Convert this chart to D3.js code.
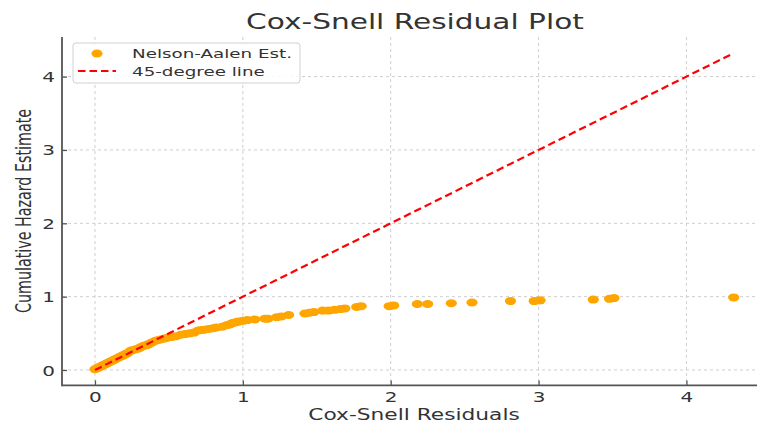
<!DOCTYPE html>
<html><head><meta charset="utf-8">
<script src="https://cdn.jsdelivr.net/npm/d3@7"></script>
<style>html,body{margin:0;padding:0;background:#fff;}svg{display:block;font-family:"DejaVu Sans",sans-serif;}</style>
</head><body>
<svg id="chart" width="757" height="422"></svg>
<script>
const title = "Cox-Snell Residual Plot";
const xLabel = "Cox-Snell Residuals";
const yLabel = "Cumulative Hazard Estimate";
const seriesPoints = "Nelson-Aalen Est.";
const seriesLine = "45-degree line";
const xTicks = [0, 1, 2, 3, 4];
const yTicks = [0, 1, 2, 3, 4];
const residuals = [0.00,0.01,0.02,0.03,0.04,0.05,0.06,0.07,0.08,0.09,0.10,0.11,0.12,0.13,0.14,0.15,0.16,0.17,0.18,0.19,0.20,0.21,0.22,0.24,0.25,0.27,0.29,0.30,0.31,0.32,0.33,0.35,0.36,0.38,0.39,0.41,0.43,0.45,0.47,0.49,
  0.52,0.55,0.58,0.61,0.64,0.67,0.70,0.72,0.74,0.77,0.80,0.82,0.86,0.89,0.91,0.93,0.95,0.97,1.00,1.03,1.08,1.15,1.17,1.23,1.26,1.31,1.42,1.45,1.48,
  1.54,1.58,1.62,1.66,1.69,1.77,1.80,1.99,2.02,2.18,2.25,2.41,2.55,2.81,2.97,3.01,3.37,3.48,3.51,4.32];
const cumHazard = [0.01,0.02,0.03,0.04,0.05,0.06,0.07,0.08,0.09,0.10,0.11,0.12,0.13,0.14,0.15,0.16,0.17,0.18,0.19,0.20,0.21,0.22,0.23,0.26,0.27,0.28,0.29,0.30,0.31,0.32,0.33,0.34,0.35,0.37,0.38,0.40,0.41,0.42,0.43,0.44,
  0.45,0.46,0.48,0.49,0.50,0.51,0.54,0.545,0.55,0.56,0.57,0.58,0.59,0.61,0.62,0.64,0.65,0.66,0.67,0.68,0.69,0.70,0.70,0.72,0.73,0.75,0.77,0.78,0.79,
  0.81,0.81,0.82,0.83,0.84,0.86,0.87,0.87,0.88,0.90,0.90,0.91,0.92,0.94,0.94,0.95,0.96,0.97,0.98,0.99];

const SX = 1.43; // horizontal text stretch of the reference
const svg = d3.select("#chart");
const x = d3.scaleLinear().domain([-0.223, 4.545]).range([62, 767]);
const y = d3.scaleLinear().domain([-0.21, 4.54]).range([385.4, 37]);
const X0 = 62, Y0 = 385.4, YT = 37;

// grid
const grid = svg.append("g");
grid.selectAll("line.gx").data(xTicks).join("line")
  .attr("x1", d => x(d)).attr("x2", d => x(d)).attr("y1", YT).attr("y2", Y0)
  .attr("stroke", "#cfcfcf").attr("stroke-width", 1).attr("stroke-dasharray", "3,3");
grid.selectAll("line.gy").data(yTicks).join("line")
  .attr("y1", d => y(d)).attr("y2", d => y(d)).attr("x1", X0).attr("x2", 757)
  .attr("stroke", "#cfcfcf").attr("stroke-width", 1).attr("stroke-dasharray", "3,3");

// points
const pts = residuals.map((r, i) => ({r, h: cumHazard[i]}));
svg.append("g").selectAll("ellipse").data(pts).join("ellipse")
  .attr("cx", d => x(d.r)).attr("cy", d => y(d.h))
  .attr("rx", 5.6).attr("ry", 4).attr("fill", "#FFA500");

// 45 degree line
const maxR = d3.max(residuals);
svg.append("path").datum([0, maxR])
  .attr("d", d3.line().x(d => x(d)).y(d => y(d)))
  .attr("stroke", "#FF0000").attr("stroke-width", 2.2).attr("fill", "none")
  .attr("stroke-dasharray", "7.5,4");

// axes
const axisColor = "#555";
const gx = svg.append("g").attr("transform", `translate(0,${Y0})`)
  .call(d3.axisBottom(x).tickValues(xTicks).tickSize(-5).tickFormat(d3.format("d")).tickPadding(0));
const gy = svg.append("g").attr("transform", `translate(${X0},0)`)
  .call(d3.axisLeft(y).tickValues(yTicks).tickSize(-5).tickFormat(d3.format("d")).tickPadding(0));
[gx, gy].forEach(g => {
  g.select(".domain").remove();
  g.selectAll(".tick line").attr("stroke", axisColor).attr("stroke-width", 1.3);
  g.selectAll(".tick text").attr("fill", "#333").attr("font-size", 14)
    .attr("font-family", "DejaVu Sans");
});
gx.selectAll(".tick text").attr("y", null).attr("dy", null)
  .attr("transform", `translate(0,17) scale(${SX},1)`);
gy.selectAll(".tick text").attr("x", null).attr("dy", "0.36em")
  .attr("transform", `translate(-7,0) scale(${SX},1)`);

svg.append("line").attr("x1", X0).attr("x2", X0).attr("y1", YT).attr("y2", Y0 + 0.8)
  .attr("stroke", axisColor).attr("stroke-width", 1.8);
svg.append("line").attr("x1", X0).attr("x2", 757).attr("y1", Y0).attr("y2", Y0)
  .attr("stroke", axisColor).attr("stroke-width", 1.8);

// title and labels
svg.append("text").attr("transform", `translate(415,29) scale(${SX},1)`)
  .attr("text-anchor", "middle").attr("font-size", 20.7).attr("fill", "#333").text(title);
svg.append("text").attr("transform", `translate(414,420) scale(${SX},1)`)
  .attr("text-anchor", "middle").attr("font-size", 15.2).attr("fill", "#333").text(xLabel);
svg.append("text").attr("transform", `translate(31,211) scale(${SX},1) rotate(-90)`)
  .attr("text-anchor", "middle").attr("font-size", 14.3).attr("fill", "#333").text(yLabel);

// legend
const lg = svg.append("g");
lg.append("rect").attr("x", 73).attr("y", 43).attr("width", 227).attr("height", 40)
  .attr("rx", 3).attr("fill", "#fff").attr("fill-opacity", 0.85)
  .attr("stroke", "#d0d0d0").attr("stroke-width", 1);
lg.append("ellipse").attr("cx", 97).attr("cy", 53.5).attr("rx", 5.6).attr("ry", 4).attr("fill", "#FFA500");
lg.append("line").attr("x1", 78).attr("x2", 116).attr("y1", 71).attr("y2", 71)
  .attr("stroke", "#FF0000").attr("stroke-width", 2.2).attr("stroke-dasharray", "7.5,4");
lg.append("text").attr("transform", `translate(132,58.3) scale(${SX},1)`)
  .attr("font-size", 12.8).attr("fill", "#333").text(seriesPoints);
lg.append("text").attr("transform", `translate(132,76.3) scale(${SX},1)`)
  .attr("font-size", 12.8).attr("fill", "#333").text(seriesLine);
</script>
</body></html>
